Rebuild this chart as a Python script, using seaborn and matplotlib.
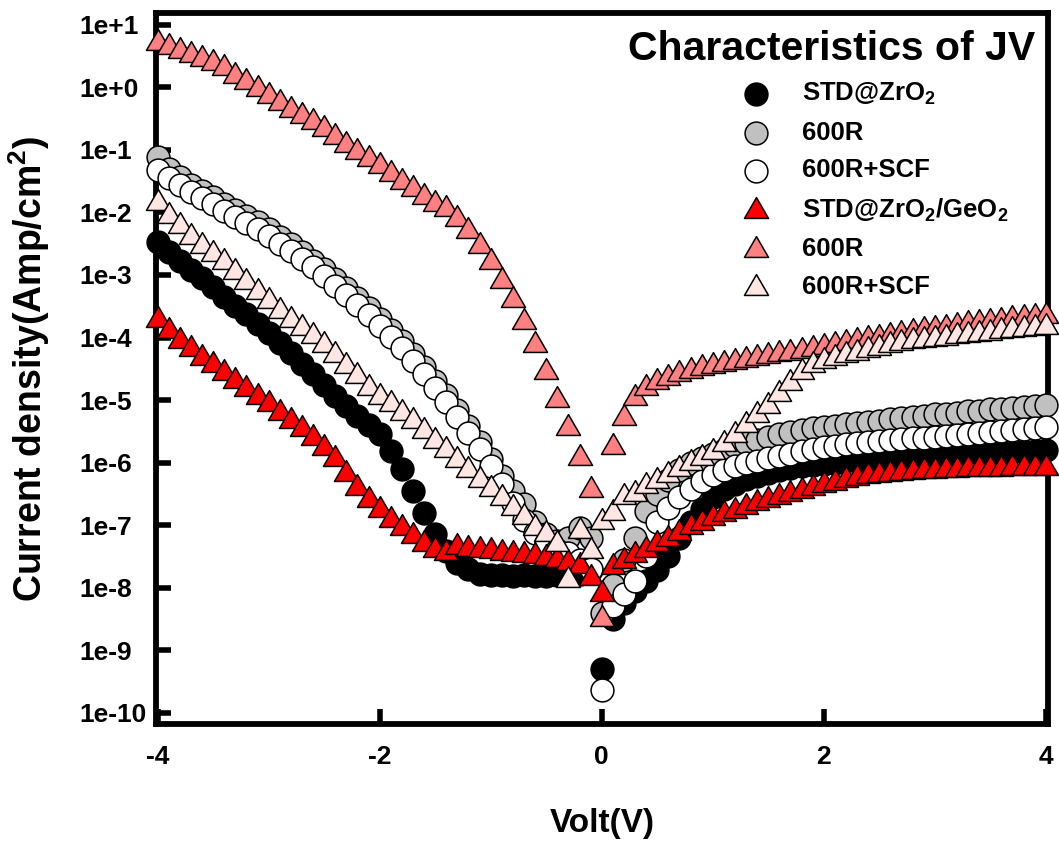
import numpy as np
import pandas as pd
import matplotlib
matplotlib.use("Agg")
import matplotlib.pyplot as plt
from matplotlib.path import Path
from matplotlib.markers import MarkerStyle
from matplotlib.ticker import FixedLocator, FixedFormatter
import seaborn as sns

sns.set_theme(style="white")
plt.rcParams["font.family"] = ["Liberation Sans", "DejaVu Sans"]
plt.rcParams["font.weight"] = "bold"
plt.rcParams["text.color"] = "black"
plt.rcParams["axes.labelcolor"] = "black"
plt.rcParams["xtick.color"] = "black"
plt.rcParams["ytick.color"] = "black"
plt.rcParams["mathtext.fontset"] = "custom"
plt.rcParams["mathtext.rm"] = "Liberation Sans:bold"
plt.rcParams["mathtext.bf"] = "Liberation Sans:bold"
plt.rcParams["mathtext.it"] = "Liberation Sans:bold"
plt.rcParams["mathtext.default"] = "bf"

# Bias sweep (V)
volt = [-4.0, -3.9, -3.8, -3.7, -3.6, -3.5, -3.4, -3.3, -3.2, -3.1,
        -3.0, -2.9, -2.8, -2.7, -2.6, -2.5, -2.4, -2.3, -2.2, -2.1,
        -2.0, -1.9, -1.8, -1.7, -1.6, -1.5, -1.4, -1.3, -1.2, -1.1,
        -1.0, -0.9, -0.8, -0.7, -0.6, -0.5, -0.4, -0.3, -0.2, -0.1,
        0.0,
        0.1, 0.2, 0.3, 0.4, 0.5, 0.6, 0.7, 0.8, 0.9, 1.0,
        1.1, 1.2, 1.3, 1.4, 1.5, 1.6, 1.7, 1.8, 1.9, 2.0,
        2.1, 2.2, 2.3, 2.4, 2.5, 2.6, 2.7, 2.8, 2.9, 3.0,
        3.1, 3.2, 3.3, 3.4, 3.5, 3.6, 3.7, 3.8, 3.9, 4.0]

# log10 of current density (A/cm^2) for each sample
log_std_zr = [
    -2.48, -2.63, -2.78, -2.92, -3.05, -3.20, -3.35, -3.50, -3.63, -3.78,
    -3.93, -4.09, -4.25, -4.42, -4.59, -4.76, -4.93, -5.10, -5.25, -5.40,
    -5.55, -5.82, -6.10, -6.45, -6.80, -7.15, -7.42, -7.60, -7.70, -7.78,
    -7.80, -7.80, -7.81, -7.80, -7.82, -7.82, -7.80, -7.80, -7.78, -7.72,
    -9.30,
    -8.50, -8.25, -8.05, -7.90, -7.72, -7.50, -7.20, -6.95, -6.75, -6.55,
    -6.43, -6.34, -6.27, -6.21, -6.16, -6.12, -6.09, -6.06, -6.04, -6.02,
    -6.00, -5.98, -5.97, -5.96, -5.95, -5.94, -5.93, -5.92, -5.91, -5.90,
    -5.89, -5.88, -5.87, -5.86, -5.85, -5.84, -5.83, -5.82, -5.81, -5.80]

log_zr_600r = [
    -1.11, -1.30, -1.44, -1.56, -1.66, -1.76, -1.86, -1.96, -2.06, -2.16,
    -2.27, -2.39, -2.51, -2.64, -2.77, -2.91, -3.06, -3.21, -3.37, -3.53,
    -3.70, -3.88, -4.06, -4.26, -4.47, -4.69, -4.92, -5.16, -5.41, -5.67,
    -5.94, -6.22, -6.45, -6.67, -6.95, -7.15, -7.25, -7.20, -7.05, -7.20,
    -8.40,
    -7.95, -7.55, -7.20, -6.78, -6.50, -6.28, -6.12, -6.00, -5.92, -5.86,
    -5.80, -5.74, -5.69, -5.64, -5.59, -5.55, -5.51, -5.48, -5.45, -5.43,
    -5.41, -5.39, -5.37, -5.35, -5.33, -5.31, -5.29, -5.27, -5.25, -5.23,
    -5.22, -5.20, -5.18, -5.17, -5.15, -5.14, -5.12, -5.11, -5.09, -5.08]

log_zr_600r_scf = [
    -1.32, -1.45, -1.56, -1.67, -1.77, -1.87, -1.97, -2.07, -2.17, -2.27,
    -2.38, -2.50, -2.62, -2.75, -2.88, -3.02, -3.17, -3.32, -3.48, -3.64,
    -3.81, -3.99, -4.17, -4.37, -4.58, -4.80, -5.03, -5.27, -5.52, -5.78,
    -6.05, -6.35, -6.65, -6.92, -7.12, -7.28, -7.40, -7.45, -7.55, -7.70,
    -9.64,
    -8.30, -8.10, -7.90, -7.50, -6.95, -6.72, -6.55, -6.42, -6.30, -6.20,
    -6.12, -6.06, -6.01, -5.97, -5.93, -5.90, -5.86, -5.82, -5.78, -5.75,
    -5.73, -5.71, -5.69, -5.67, -5.66, -5.64, -5.63, -5.61, -5.60, -5.59,
    -5.57, -5.56, -5.54, -5.53, -5.51, -5.49, -5.48, -5.46, -5.45, -5.43]

log_std_zrge = [
    -3.72, -3.90, -4.05, -4.19, -4.32, -4.44, -4.56, -4.70, -4.82, -4.95,
    -5.07, -5.20, -5.33, -5.46, -5.60, -5.76, -5.95, -6.18, -6.40, -6.60,
    -6.76, -6.92, -7.05, -7.18, -7.30, -7.40, -7.45, -7.35, -7.38, -7.40,
    -7.42, -7.44, -7.46, -7.48, -7.50, -7.52, -7.55, -7.60, -7.66, -7.85,
    -8.10,
    -7.67, -7.58, -7.48, -7.40, -7.30, -7.22, -7.12, -7.03, -6.96, -6.89,
    -6.83, -6.77, -6.71, -6.65, -6.60, -6.55, -6.50, -6.45, -6.40, -6.36,
    -6.32, -6.28, -6.25, -6.22, -6.20, -6.18, -6.16, -6.15, -6.14, -6.13,
    -6.12, -6.12, -6.11, -6.11, -6.10, -6.10, -6.09, -6.09, -6.08, -6.08]

log_zrge_600r = [
    0.71, 0.64, 0.58, 0.52, 0.46, 0.39, 0.31, 0.19, 0.08, -0.02,
    -0.13, -0.25, -0.36, -0.46, -0.56, -0.67, -0.79, -0.92, -1.04, -1.15,
    -1.25, -1.39, -1.52, -1.63, -1.75, -1.86, -1.95, -2.10, -2.30, -2.53,
    -2.80, -3.10, -3.40, -3.75, -4.12, -4.55, -5.00, -5.45, -5.93, -6.44,
    -8.50,
    -5.75, -5.29, -4.97, -4.81, -4.71, -4.64, -4.58, -4.53, -4.49, -4.45,
    -4.42, -4.39, -4.36, -4.33, -4.30, -4.27, -4.24, -4.21, -4.18, -4.15,
    -4.12, -4.09, -4.06, -4.03, -4.00, -3.97, -3.94, -3.91, -3.88, -3.86,
    -3.84, -3.81, -3.79, -3.77, -3.75, -3.73, -3.71, -3.69, -3.67, -3.65]

log_zrge_600r_scf = [
    -1.85, -2.05, -2.21, -2.39, -2.53, -2.67, -2.80, -2.95, -3.12, -3.28,
    -3.42, -3.57, -3.72, -3.85, -3.98, -4.12, -4.28, -4.45, -4.62, -4.80,
    -4.95, -5.07, -5.20, -5.33, -5.50, -5.65, -5.80, -5.96, -6.12, -6.28,
    -6.42, -6.56, -6.72, -6.87, -7.05, -7.15, -7.30, -7.88, -7.10, -7.42,
    -6.95,
    -6.80, -6.55, -6.50, -6.38, -6.30, -6.20, -6.10, -6.01, -5.92, -5.83,
    -5.70, -5.56, -5.40, -5.24, -5.09, -4.90, -4.72, -4.55, -4.44, -4.38,
    -4.33, -4.28, -4.24, -4.20, -4.16, -4.12, -4.09, -4.06, -4.04, -4.02,
    -4.00, -3.98, -3.96, -3.94, -3.92, -3.90, -3.88, -3.86, -3.84, -3.83]

series_labels = ["STD@ZrO$_2$", "600R", "600R+SCF",
                 "STD@ZrO$_2$/GeO$_2$", "600R", "600R+SCF"]
series_logs = [log_std_zr, log_zr_600r, log_zr_600r_scf,
               log_std_zrge, log_zrge_600r, log_zrge_600r_scf]
series_colors = ["#000000", "#C0C0C0", "#FFFFFF",
                 "#FF0000", "#FF8080", "#FFE6E2"]

ytick_values = [1e-10, 1e-9, 1e-8, 1e-7, 1e-6, 1e-5, 1e-4, 1e-3, 1e-2, 1e-1, 1e0, 1e1]
ytick_labels = ["1e-10", "1e-9", "1e-8", "1e-7", "1e-6", "1e-5", "1e-4",
                "1e-3", "1e-2", "1e-1", "1e+0", "1e+1"]
xtick_values = [-4, -2, 0, 2, 4]
xtick_labels = ["-4", "-2", "0", "2", "4"]

# Equilateral up-triangle marker
tri = MarkerStyle(Path([(0.0, 1.155), (-1.0, -0.577), (1.0, -0.577), (0.0, 1.155)],
                       [Path.MOVETO, Path.LINETO, Path.LINETO, Path.CLOSEPOLY]))
series_markers = ["o", "o", "o", tri, tri, tri]
series_sizes = [270, 270, 270, 400, 400, 400]

fig = plt.figure(figsize=(10.59, 8.43), dpi=100)
ax = fig.add_axes([0.1473, 0.1412, 0.8423, 0.8434])

for lab, logs, col, mk, sz in zip(series_labels, series_logs, series_colors,
                                  series_markers, series_sizes):
    df = pd.DataFrame({"V": volt, "J": np.power(10.0, logs)})
    sns.scatterplot(data=df, x="V", y="J", ax=ax, marker=mk, s=sz, color=col,
                    edgecolor="black", linewidth=1.1, label=lab,
                    zorder=3, clip_on=False, legend=False)

ax.set_yscale("log")
ax.set_xlim(-4.015, 4.02)
ax.set_ylim(10 ** -10.18, 10 ** 1.19)

ax.yaxis.set_major_locator(FixedLocator(ytick_values))
ax.yaxis.set_major_formatter(FixedFormatter(ytick_labels))
ax.yaxis.set_minor_locator(FixedLocator([]))
ax.xaxis.set_major_locator(FixedLocator(xtick_values))
ax.xaxis.set_major_formatter(FixedFormatter(xtick_labels))

for sp in ax.spines.values():
    sp.set_linewidth(4.2)
    sp.set_color("black")
    sp.set_visible(True)

ax.tick_params(axis="both", which="major", direction="in", length=11, width=4,
               color="black", labelcolor="black", labelsize=19,
               left=True, bottom=True, top=False, right=False)
ax.tick_params(axis="x", pad=15)
ax.tick_params(axis="y", pad=55)
for t in ax.get_yticklabels():
    t.set_horizontalalignment("left")
    t.set_fontweight("bold")
for t in ax.get_xticklabels():
    t.set_fontweight("bold")

ax.set_xlabel("Volt(V)", fontsize=24, fontweight="bold", color="black")
ax.set_ylabel("Current density(Amp/cm$^{2}$)", fontsize=27, fontweight="bold",
              color="black")
ax.xaxis.set_label_coords(0.5, -0.118)
ax.yaxis.set_label_coords(-0.117, 0.5)
ax.grid(False)

ax.text(0.9854, 0.934, "Characteristics of JV", transform=ax.transAxes,
        ha="right", va="baseline", fontsize=29.5, fontweight="bold",
        color="black")

handles, labels = ax.get_legend_handles_labels()
leg = ax.legend(handles, labels, loc="upper left", bbox_to_anchor=(0.658, 0.905),
                frameon=False, borderpad=0, handlelength=1.0, handletextpad=1.3,
                labelspacing=0.54, prop={"weight": "bold", "size": 18.5},
                borderaxespad=0)
for txt in leg.get_texts():
    txt.set_color("black")

fig.savefig("out.png", dpi=100)
